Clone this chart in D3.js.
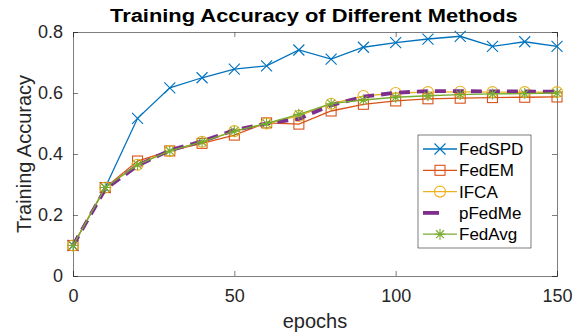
<!DOCTYPE html>
<html>
<head>
<meta charset="utf-8">
<script src="https://cdn.jsdelivr.net/npm/d3@7"></script>
<style>
  body { margin: 0; background: #fff; }
  text { font-family: "Liberation Sans", Arial, sans-serif; }
</style>
</head>
<body>
<div id="chart"></div>
<script>
const epochs = [0, 10, 20, 30, 40, 50, 60, 70, 80, 90, 100, 110, 120, 130, 140, 150];
const fedSPD = [0.10, 0.29, 0.517, 0.617, 0.650, 0.678, 0.689, 0.741, 0.711, 0.750, 0.765, 0.777, 0.786, 0.753, 0.768, 0.753];
const fedEM  = [0.10, 0.29, 0.377, 0.410, 0.435, 0.462, 0.502, 0.498, 0.541, 0.563, 0.574, 0.581, 0.583, 0.585, 0.586, 0.587];
const ifca   = [0.10, 0.29, 0.365, 0.410, 0.440, 0.475, 0.500, 0.525, 0.565, 0.590, 0.600, 0.603, 0.604, 0.603, 0.603, 0.603];
const pFedMe = [0.10, 0.285, 0.362, 0.412, 0.442, 0.478, 0.500, 0.515, 0.560, 0.588, 0.601, 0.606, 0.606, 0.605, 0.605, 0.604];
const fedAvg = [0.10, 0.29, 0.365, 0.410, 0.440, 0.475, 0.500, 0.530, 0.565, 0.577, 0.586, 0.591, 0.595, 0.597, 0.598, 0.600];
const xTicks = [0, 50, 100, 150];
const yTicks = [0, 0.2, 0.4, 0.6, 0.8];

const series = [
  { name: 'FedSPD', values: fedSPD, color: '#0072BD', marker: 'x' },
  { name: 'FedEM',  values: fedEM,  color: '#D95319', marker: 'square' },
  { name: 'IFCA',   values: ifca,   color: '#EDB120', marker: 'circle' },
  { name: 'pFedMe', values: pFedMe, color: '#7E2F8E', marker: 'none', dashed: true },
  { name: 'FedAvg', values: fedAvg, color: '#77AC30', marker: 'star' }
];

const width = 582, height = 335;
const margin = { top: 32, right: 25, bottom: 59, left: 73 };
const innerW = width - margin.left - margin.right;
const innerH = height - margin.top - margin.bottom;

const svg = d3.select('#chart').append('svg')
  .attr('width', width).attr('height', height);

const g = svg.append('g')
  .attr('transform', 'translate(' + margin.left + ',' + margin.top + ')');

const x = d3.scaleLinear().domain([0, 150]).range([0, innerW]);
const y = d3.scaleLinear().domain([0, 0.8]).range([innerH, 0]);

const axisColor = '#262626';
const tickLen = 5;

// axes (MATLAB style, ticks inward, box on)
const xAxis = g.append('g')
  .attr('transform', 'translate(0,' + innerH + ')')
  .call(d3.axisBottom(x).tickValues(xTicks).tickSize(-tickLen).tickPadding(tickLen + 8).tickFormat(d3.format('d')));
const yAxis = g.append('g')
  .call(d3.axisLeft(y).tickValues(yTicks).tickSize(-tickLen).tickPadding(tickLen + 5).tickFormat(d => d === 0 ? '0' : d3.format('.1f')(d)));
const xTop = g.append('g')
  .call(d3.axisTop(x).tickValues(xTicks).tickSize(-tickLen).tickFormat(''));
const yRight = g.append('g')
  .attr('transform', 'translate(' + innerW + ',0)')
  .call(d3.axisRight(y).tickValues(yTicks).tickSize(-tickLen).tickFormat(''));

[xAxis, yAxis, xTop, yRight].forEach(a => {
  a.select('.domain').attr('stroke', axisColor).attr('stroke-width', 0.6);
  a.selectAll('.tick line').attr('stroke', axisColor).attr('stroke-width', 0.6);
  a.selectAll('.tick text').attr('fill', '#262626').style('font-size', '18px');
});

// lines
const line = d3.line()
  .x((d, i) => x(epochs[i]))
  .y(d => y(d));

function drawMarker(sel, type, color, cx, cy) {
  if (type === 'x') {
    const s = 5.5;
    sel.append('path')
      .attr('d', `M${cx - s},${cy - s}L${cx + s},${cy + s}M${cx - s},${cy + s}L${cx + s},${cy - s}`)
      .attr('stroke', color).attr('stroke-width', 1.1).attr('fill', 'none');
  } else if (type === 'square') {
    const s = 5;
    sel.append('rect')
      .attr('x', cx - s).attr('y', cy - s).attr('width', 2 * s).attr('height', 2 * s)
      .attr('stroke', color).attr('stroke-width', 1.1).attr('fill', 'none');
  } else if (type === 'circle') {
    sel.append('circle')
      .attr('cx', cx).attr('cy', cy).attr('r', 5.5)
      .attr('stroke', color).attr('stroke-width', 1.1).attr('fill', 'none');
  } else if (type === 'star') {
    const s = 5.5, d = s * 0.72;
    sel.append('path')
      .attr('d', `M${cx - s},${cy}L${cx + s},${cy}M${cx},${cy - s}L${cx},${cy + s}` +
                 `M${cx - d},${cy - d}L${cx + d},${cy + d}M${cx - d},${cy + d}L${cx + d},${cy - d}`)
      .attr('stroke', color).attr('stroke-width', 1.1).attr('fill', 'none');
  }
}

series.forEach(s => {
  const sg = g.append('g');
  sg.append('path')
    .datum(s.values)
    .attr('d', line)
    .attr('fill', 'none')
    .attr('stroke', s.color)
    .attr('stroke-width', s.dashed ? 3.8 : 1.3)
    .attr('stroke-dasharray', s.dashed ? '11,7' : null);
  s.values.forEach((v, i) => drawMarker(sg, s.marker, s.color, x(epochs[i]), y(v)));
});

// title: wide bold glyphs, stretched horizontally to the reference width
const title = svg.append('text')
  .attr('x', 0).attr('y', 0)
  .style('font-size', '19px').style('font-weight', 'bold')
  .attr('fill', '#000')
  .text('Training Accuracy of Different Methods');
const tLen = title.node().getComputedTextLength();
title.attr('transform', 'translate(110,22) scale(' + (408 / tLen) + ',1)');

svg.append('text')
  .attr('x', margin.left + innerW / 2).attr('y', 328)
  .attr('text-anchor', 'middle')
  .style('font-size', '20px')
  .attr('fill', '#262626')
  .text('epochs');

svg.append('text')
  .attr('transform', 'translate(31,' + (margin.top + innerH / 2) + ') rotate(-90)')
  .attr('text-anchor', 'middle')
  .style('font-size', '20px')
  .attr('fill', '#262626')
  .text('Training Accuracy');

// legend
const lg = svg.append('g').attr('transform', 'translate(418,135)');
lg.append('rect')
  .attr('width', 113).attr('height', 113)
  .attr('fill', '#fff').attr('stroke', axisColor).attr('stroke-width', 0.6);

series.forEach((s, i) => {
  const ly = 14 + i * 21.3;
  if (s.dashed) {
    lg.append('line')
      .attr('x1', 5).attr('x2', 21).attr('y1', ly).attr('y2', ly)
      .attr('stroke', s.color).attr('stroke-width', 3.8);
  } else {
    lg.append('line')
      .attr('x1', 5).attr('x2', 39).attr('y1', ly).attr('y2', ly)
      .attr('stroke', s.color).attr('stroke-width', 1.3);
    drawMarker(lg, s.marker, s.color, 22, ly);
  }
  lg.append('text')
    .attr('x', 41).attr('y', ly + 6)
    .style('font-size', '17px')
    .attr('fill', '#000')
    .text(s.name);
});
</script>
</body>
</html>
